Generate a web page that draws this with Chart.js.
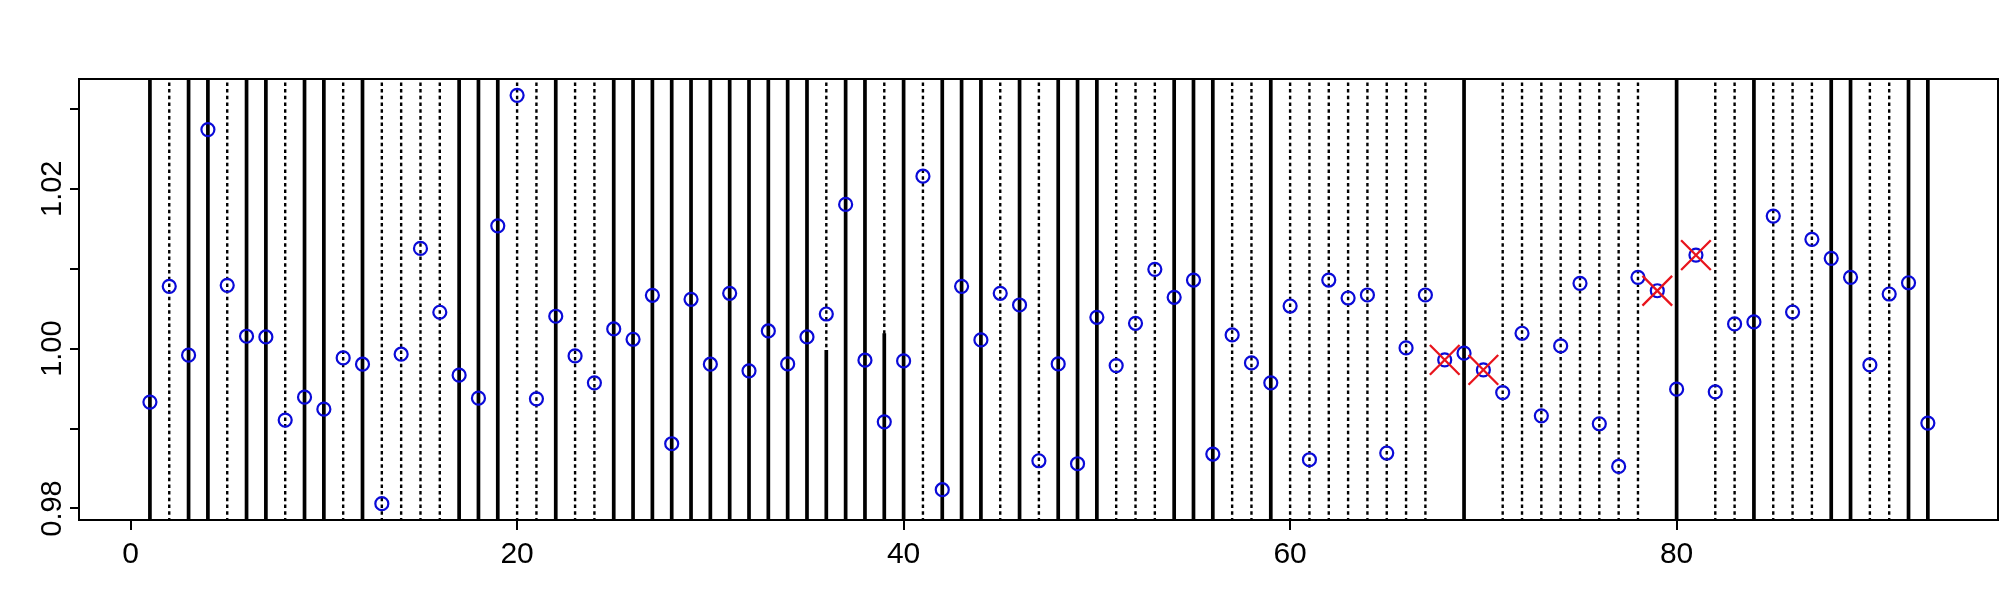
<!DOCTYPE html>
<html>
<head>
<meta charset="utf-8">
<script src="https://cdn.jsdelivr.net/npm/chart.js@4.4.1/dist/chart.umd.min.js"></script>
<style>
  html, body { margin: 0; padding: 0; background: #fff; overflow: hidden; }
  #wrap { width: 2000px; height: 600px; }
  canvas { display: block; }
</style>
</head>
<body>
<div id="wrap"><canvas id="chart" width="2000" height="600"></canvas></div>
<script>
// sample index 1..93
const sampleIdx = Array.from({ length: 93 }, (_, i) => i + 1);

const ratios = [
  0.99331, 1.00779, 0.99918, 1.02740, 1.00792, 1.00155, 1.00146, 0.99106, 0.99393, 0.99243,
  0.99884, 0.99805, 0.98060, 0.99930, 1.01254, 1.00455, 0.99668, 0.99380, 1.01536, 1.03169,
  0.99372, 1.00405, 0.99909, 0.99572, 1.00246, 1.00117, 1.00667, 0.98810, 1.00617, 0.99805,
  1.00692, 0.99722, 1.00221, 0.99809, 1.00146, 1.00433, 1.01804, 0.99855, 0.99084, 0.99846,
  1.02157, 0.98235, 1.00779, 1.00109, 1.00692, 1.00546, 0.98597, 0.99809, 0.98560, 1.00392,
  0.99788, 1.00317, 1.00992, 1.00642, 1.00858, 0.98681, 1.00171, 0.99821, 0.99572, 1.00533,
  0.98610, 1.00858, 1.00633, 1.00671, 0.98694, 1.00009, 1.00671, 0.99859, 0.99943, 0.99734,
  0.99450, 1.00192, 0.99159, 1.00034, 1.00817, 0.99060, 0.98526, 1.00892, 1.00724, 0.99493,
  1.01170, 0.99459, 1.00309, 1.00334, 1.01658, 1.00458, 1.01367, 1.01129, 1.00892, 0.99796,
  1.00683, 1.00824, 0.99068
];

const solidX = [1, 3, 4, 6, 7, 9, 10, 12, 17, 18, 19, 22, 25, 26, 27, 28, 29, 30, 31, 32, 33,
  34, 35, 37, 38, 40, 42, 43, 44, 46, 48, 49, 50, 54, 55, 56, 59, 69, 80, 84, 88, 89, 92, 93];
const dottedX = [2, 5, 8, 11, 13, 14, 15, 16, 20, 21, 23, 24, 36, 39, 41, 45, 47, 51, 52, 53,
  57, 58, 60, 61, 62, 63, 64, 65, 66, 67, 71, 72, 73, 74, 75, 76, 77, 78, 82, 83, 85, 86, 87, 90, 91];
const partialX = [36, 39];
const partialTop = [0.99984, 1.00192];
const flaggedX = [68, 70, 79, 81];

const xTicks = [0, 20, 40, 60, 80];
const yTicks = [0.98, 0.99, 1.00, 1.01, 1.02, 1.03];
const yLabels = ['0.98', '1.00', '1.02'];

const FONT = '"Liberation Sans", Arial, sans-serif';
const Y_LO = 0.97, Y_HI = 1.04;
// plot box, in canvas px
const AREA = { left: 79, top: 79, right: 1998, bottom: 520 };

function vlines(xs, tops) {
  const out = [];
  xs.forEach((x, i) => {
    out.push({ x, y: Y_LO }, { x, y: tops ? tops[i] : Y_HI }, { x, y: null });
  });
  return out;
}

const solidLines = vlines(solidX).concat(vlines(partialX, partialTop));
const dottedLines = vlines(dottedX);
const points = sampleIdx.map((x, i) => ({ x, y: ratios[i] }));
const flagged = flaggedX.map(x => ({ x, y: ratios[x - 1] }));

const frame = {
  id: 'frame',
  afterDatasetsDraw(chart) {
    const { ctx, chartArea: a, scales: { y } } = chart;
    ctx.save();
    ctx.strokeStyle = '#000';
    ctx.lineWidth = 2;
    ctx.strokeRect(a.left, a.top, a.right - a.left, a.bottom - a.top);
    ctx.fillStyle = '#000';
    ctx.font = '29px ' + FONT;
    ctx.textAlign = 'center';
    ctx.textBaseline = 'alphabetic';
    yLabels.forEach(t => {
      ctx.save();
      ctx.translate(61, y.getPixelForValue(+t));
      ctx.rotate(-Math.PI / 2);
      ctx.fillText(t, 0, 0);
      ctx.restore();
    });
    ctx.restore();
  }
};

new Chart(document.getElementById('chart'), {
  type: 'scatter',
  data: {
    datasets: [
      {
        type: 'line', data: solidLines, order: 3,
        borderColor: '#000', borderWidth: 3.7, pointRadius: 0,
        spanGaps: false, fill: false, tension: 0, clip: 0
      },
      {
        type: 'line', data: dottedLines, order: 4,
        borderColor: '#000', borderWidth: 2.4, borderDash: [3.5, 3.2], pointRadius: 0,
        spanGaps: false, fill: false, tension: 0, clip: 0
      },
      {
        data: points, order: 2,
        pointStyle: 'circle', pointRadius: 6.5, pointBorderWidth: 2.2,
        pointBorderColor: '#0a0ad8', pointBackgroundColor: 'rgba(0,0,0,0)'
      },
      {
        data: flagged, order: 1,
        pointStyle: 'crossRot', pointRadius: 21, pointBorderWidth: 2.3,
        pointBorderColor: '#e8141c', pointBackgroundColor: 'rgba(0,0,0,0)'
      }
    ]
  },
  options: {
    responsive: false,
    animation: false,
    devicePixelRatio: 1,
    layout: {
      autoPadding: false,
      padding: { left: 0, right: 2000 - AREA.right, top: AREA.top, bottom: 0 }
    },
    plugins: { legend: { display: false }, tooltip: { enabled: false } },
    scales: {
      x: {
        type: 'linear', min: -2.67, max: 96.63,
        afterBuildTicks: s => { s.ticks = xTicks.map(v => ({ value: v })); },
        afterFit: s => { s.height = 600 - AREA.bottom; },
        grid: { drawOnChartArea: false, drawTicks: true, tickLength: 10, color: '#000', lineWidth: 2 },
        border: { display: false },
        ticks: { color: '#000', font: { family: FONT, size: 30 }, padding: 7, maxRotation: 0, autoSkip: false }
      },
      y: {
        type: 'linear', min: 0.97856, max: 1.03373,
        afterBuildTicks: s => { s.ticks = yTicks.map(v => ({ value: v })); },
        afterFit: s => { s.width = AREA.left; },
        grid: { drawOnChartArea: false, drawTicks: true, tickLength: 9, color: '#000', lineWidth: 2 },
        border: { display: false },
        ticks: { display: false }
      }
    }
  },
  plugins: [frame]
});
</script>
</body>
</html>
